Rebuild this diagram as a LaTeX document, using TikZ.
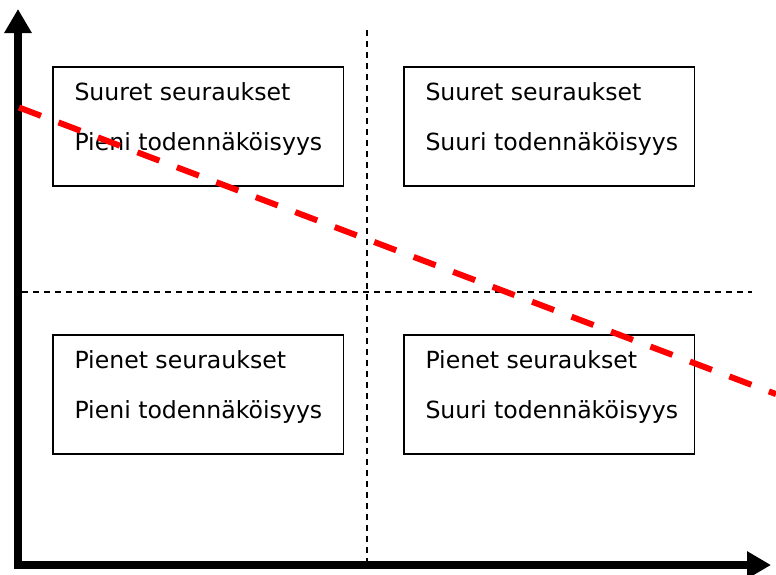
\documentclass[tikz,border=0pt]{standalone}
\usepackage{fontspec}
\setmainfont{DejaVu Sans}
\usetikzlibrary{arrows.meta,calc}

\tikzset{
  quadrant/.style={draw=black, line width=1.4pt, rectangle, inner sep=0pt,
                   minimum width=290.5pt, minimum height=119pt},
  lbl/.style={anchor=base west, inner sep=0pt, font=\fontsize{23.6}{28}\selectfont},
  axis/.style={line width=8pt, line join=miter, draw=black,
               {Triangle[length=24pt,width=26pt]}-{Triangle[length=24pt,width=26pt]}},
  divider/.style={line width=1.5pt, dash pattern=on 6pt off 5pt, draw=black},
  boundary/.style={line width=6pt, draw=red, dash pattern=on 23.5pt off 18.7pt}
}

\begin{document}
\begin{tikzpicture}[x=1pt,y=-1pt]
  \useasboundingbox (0,0) rectangle (776,574);

  % quadrant dividers
  \coordinate (vtop) at (367,30);
  \coordinate (vbot) at (367,561);
  \coordinate (hleft) at (22,292);
  \coordinate (hright) at (752,292);
  \draw[divider] (vtop) -- (vbot);
  \draw[divider] (hleft) -- (hright);

  % the four quadrant boxes
  \node[quadrant] (q1) at (198.25,126.5) {};
  \node[quadrant] (q2) at (549.25,126.5) {};
  \node[quadrant] (q3) at (198.25,394.5) {};
  \node[quadrant] (q4) at (549.25,394.5) {};

  % box texts
  \node[lbl] (q1a) at ($(q1.north west)+(22,34)$) {Suuret seuraukset};
  \node[lbl] (q1b) at ($(q1.north west)+(22,84)$) {Pieni todennäköisyys};
  \node[lbl] (q2a) at ($(q2.north west)+(22,34)$) {Suuret seuraukset};
  \node[lbl] (q2b) at ($(q2.north west)+(22,84)$) {Suuri todennäköisyys};
  \node[lbl] (q3a) at ($(q3.north west)+(22,34)$) {Pienet seuraukset};
  \node[lbl] (q3b) at ($(q3.north west)+(22,84)$) {Pieni todennäköisyys};
  \node[lbl] (q4a) at ($(q4.north west)+(22,34)$) {Pienet seuraukset};
  \node[lbl] (q4b) at ($(q4.north west)+(22,84)$) {Suuri todennäköisyys};

  % axes
  \coordinate (origin) at (18,565);
  \coordinate (ytip) at (18,9);
  \coordinate (xtip) at (771,565);
  \draw[axis] (ytip) -- (origin) -- (xtip);

  % acceptability boundary
  \coordinate (r1) at (19,107.5);
  \coordinate (r2) at (776,394.1);
  \draw[boundary] (r1) -- (r2);
\end{tikzpicture}
\end{document}
